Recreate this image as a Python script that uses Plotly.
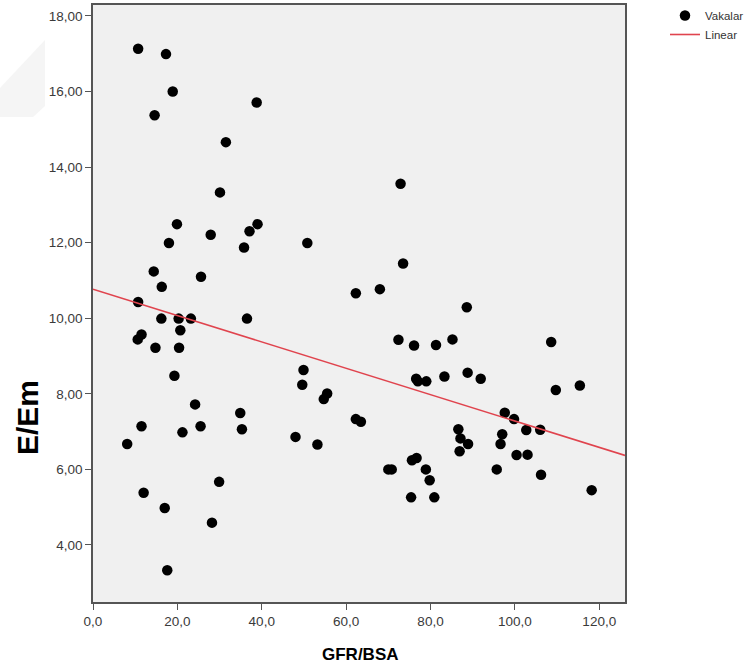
import plotly.graph_objects as go

# GFR/BSA vs E/Em cases
gfr_bsa = [
    10.7, 17.3, 18.9, 14.6, 38.8, 31.5, 30.1, 19.9, 27.9, 18.0,
    37.1, 39.0, 35.8, 50.8, 14.4, 16.3, 25.6, 10.7, 62.3, 68.0,
    16.2, 20.3, 23.2, 36.5, 20.7, 11.5, 10.6, 14.8, 20.4, 19.3,
    24.2, 34.9, 11.5, 25.5, 35.3, 21.2, 8.1, 29.9, 12.0, 17.0,
    28.2, 17.6, 72.9, 73.5, 88.6, 72.4, 76.1, 81.3, 85.2, 108.6,
    76.6, 77.0, 79.0, 83.3, 88.8, 91.9, 109.7, 115.4, 97.6, 99.8,
    102.7, 106.0, 86.6, 87.1, 88.9, 86.9, 97.0, 96.6, 100.4, 103.0,
    95.7, 106.2, 118.2, 49.9, 49.6, 55.5, 54.7, 62.3, 63.5, 48.0,
    53.2, 70.0, 70.8, 75.6, 76.7, 78.9, 79.8, 75.4, 80.9,
]
e_em = [
    17.13, 16.99, 16.00, 15.37, 15.71, 14.66, 13.33, 12.49, 12.21, 11.99,
    12.30, 12.49, 11.87, 11.99, 11.24, 10.83, 11.10, 10.43, 10.66, 10.77,
    9.99, 9.99, 9.99, 9.99, 9.68, 9.57, 9.44, 9.22, 9.22, 8.48,
    7.72, 7.49, 7.14, 7.14, 7.06, 6.98, 6.67, 5.67, 5.38, 4.98,
    4.59, 3.33, 13.56, 11.45, 10.29, 9.43, 9.28, 9.29, 9.44, 9.37,
    8.40, 8.33, 8.33, 8.46, 8.56, 8.40, 8.10, 8.22, 7.50, 7.33,
    7.04, 7.05, 7.06, 6.82, 6.67, 6.48, 6.93, 6.67, 6.38, 6.39,
    6.00, 5.86, 5.45, 8.63, 8.24, 8.01, 7.86, 7.33, 7.26, 6.86,
    6.66, 6.00, 6.00, 6.24, 6.30, 6.00, 5.71, 5.26, 5.26,
]

# Linear fit line coefficients
fit_intercept = 10.77
fit_slope = -0.0349

x_range = [0, 126.1]
y_range = [2.49, 18.29]

fit_x = list(x_range)
fit_y = [fit_intercept + fit_slope * v for v in fit_x]

fig = go.Figure()
fig.add_trace(go.Scatter(
    x=gfr_bsa, y=e_em, mode="markers", name="Vakalar",
    marker=dict(color="black", size=10.5, line=dict(width=0)),
))
fig.add_trace(go.Scatter(
    x=fit_x, y=fit_y, mode="lines", name="Linear",
    line=dict(color="#e0444e", width=1.6),
))

W, H = 750, 671
L, R, T, B = 93, 625, 5, 602


def px(xp):
    return (xp - L) / (R - L)


def py(yp):
    return (B - yp) / (B - T)


tick_font = dict(family="Arial, Liberation Sans, sans-serif", size=13.5, color="#3a3a3a")

fig.update_layout(
    width=W, height=H,
    margin=dict(l=L, r=W - R, t=T, b=H - B, pad=0, autoexpand=False),
    paper_bgcolor="white",
    plot_bgcolor="#f0f0f0",
    separators=",.",
    showlegend=True,
    legend=dict(
        x=px(665), y=py(1), xanchor="left", yanchor="top",
        bgcolor="rgba(0,0,0,0)",
        font=dict(family="Arial, Liberation Sans, sans-serif", size=11.5, color="#333"),
        itemwidth=30, tracegroupgap=0,
    ),
    xaxis=dict(
        range=x_range, dtick=20, tick0=0, tickformat=".1f",
        showgrid=False, zeroline=False, automargin=False,
        showline=True, linecolor="#555", linewidth=1.6, mirror=True,
        ticks="outside", ticklen=6, tickwidth=1.4, tickcolor="#555",
        tickfont=tick_font,
    ),
    yaxis=dict(
        range=y_range, dtick=2, tick0=0, tickformat=".2f",
        showgrid=False, zeroline=False, automargin=False,
        showline=True, linecolor="#555", linewidth=1.6, mirror=True,
        ticks="outside", ticklen=6, tickwidth=1.4, tickcolor="#555",
        tickfont=tick_font,
    ),
    annotations=[
        dict(text="<b>E/Em</b>", xref="paper", yref="paper",
             x=px(27), y=py(418), xanchor="center", yanchor="middle",
             textangle=-90, showarrow=False,
             font=dict(family="Arial, Liberation Sans, sans-serif", size=30, color="black")),
        dict(text="<b>GFR/BSA</b>", xref="paper", yref="paper",
             x=px(360), y=py(655), xanchor="center", yanchor="middle",
             showarrow=False,
             font=dict(family="Arial, Liberation Sans, sans-serif", size=17, color="black")),
    ],
    shapes=[
        dict(type="path", xref="paper", yref="paper", layer="below",
             path=(f"M {px(45)} {py(40)} L {px(45)} {py(106)} L {px(33)} {py(117)} "
                   f"L {px(0)} {py(117)} L {px(0)} {py(88)} Z"),
             fillcolor="#f5f5f5", line=dict(width=0)),
    ],
)

fig.write_html("out.html")
